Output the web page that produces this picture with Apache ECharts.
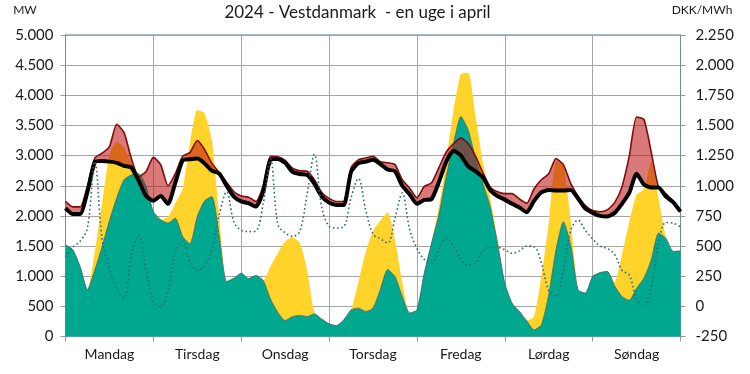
<!DOCTYPE html>
<html>
<head>
<meta charset="utf-8">
<script src="https://cdn.jsdelivr.net/npm/echarts@6/dist/echarts.min.js"></script>
<style>
html,body{margin:0;padding:0;background:#fff;}
#c{width:750px;height:374px;}
</style>
</head>
<body>
<div id="c"></div>
<script>
// Day names (x-axis labels), one per 24 h
const days = ['Mandag','Tirsdag','Onsdag','Torsdag','Fredag','Lørdag','Søndag'];
// Hour stamps (every 2nd hour through the week)
const hours = [];
for (let h = 0; h <= 168; h += 2) hours.push(h);

// Wind production, MW (green area)
const wind = [1520,1440,1160,775,1100,1490,1920,2300,2600,2680,2700,2490,
  2070,1935,1880,1960,1660,1540,1990,2250,2320,1660,910,965,
  1050,960,1010,930,620,400,265,330,350,330,375,290,
  210,180,275,440,470,415,470,780,1110,995,665,390,
  440,1050,1550,2015,2650,3200,3650,3425,2955,2540,2155,1550,
  885,553,415,260,110,195,690,1435,1905,1520,775,720,
  995,1060,1080,840,665,600,800,968,1270,1713,1630,1410,
  1420];
// Solar production, MW (yellow area, on top of wind)
const solar = [0,0,0,0,300,720,1090,930,530,190,0,0,
  0,0,100,250,790,1665,1765,1450,930,340,0,0,
  0,0,0,0,540,980,1310,1315,1200,770,25,0,
  0,0,0,0,430,985,1280,1140,950,605,235,0,
  0,0,0,135,250,550,700,950,700,350,150,60,
  0,0,0,0,220,805,1190,1465,945,415,0,0,
  0,0,0,60,685,1300,1550,1480,1630,590,20,0,
  0];
// Consumption, MW (thick black line)
const consumption = [2130,2030,2030,2400,2890,2910,2900,2880,2830,2800,2580,2330,
  2250,2330,2200,2550,2920,2940,2950,2870,2750,2700,2500,2320,
  2240,2210,2155,2400,2935,2945,2880,2730,2695,2680,2530,2320,
  2220,2180,2180,2730,2875,2900,2930,2860,2770,2740,2500,2360,
  2200,2265,2280,2560,2900,3080,3000,2820,2740,2640,2430,2330,
  2270,2200,2140,2060,2250,2390,2430,2420,2420,2430,2290,2120,
  2050,2000,1990,2050,2200,2380,2700,2520,2470,2470,2320,2230,
  2070];
// Upper edge of the red band, MW (dark red line)
const upper = [2240,2150,2150,2500,2960,3040,3150,3520,3380,2950,2650,2735,
  2970,2850,2500,2700,2990,3050,3250,3100,2870,2720,2560,2400,
  2330,2310,2240,2500,2990,2980,2920,2790,2750,2740,2600,2390,
  2290,2240,2240,2800,2930,2960,2990,2900,2880,2850,2600,2460,
  2300,2490,2550,2800,3060,3200,3290,3200,2990,2720,2480,2400,
  2370,2370,2280,2210,2450,2600,2700,2950,2850,2540,2330,2170,
  2090,2070,2100,2220,2480,2990,3640,3600,3060,2475,2370,2240,
  2100];
// Spot price, DKK/MWh (dotted line, right axis)
const price = [410,490,540,650,1200,560,310,140,70,420,590,300,
  40,0,130,450,540,370,300,340,480,760,950,700,
  630,620,625,850,1220,680,610,580,620,930,1260,820,
  665,650,660,900,1060,800,600,560,525,730,940,640,
  480,390,360,470,565,500,390,340,360,460,490,490,
  470,440,460,500,495,360,130,85,300,630,715,630,
  560,500,480,430,300,260,60,0,160,524,695,690,
  660];

const band = upper.map((v, i) => v - consumption[i]);

function fmt(v) {
  const s = String(Math.abs(v));
  const t = s.length > 3 ? s.slice(0, -3) + '.' + s.slice(-3) : s;
  return (v < 0 ? '-' : '') + t;
}

const FONT = 'Lato, "Open Sans", sans-serif';
const chart = echarts.init(document.getElementById('c'), null, {renderer: 'canvas'});
const sm = 0.2;

chart.setOption({
  animation: false,
  backgroundColor: '#ffffff',
  grid: {left: 65.5, right: 69.5, top: 35, bottom: 37.5, show: true, borderColor: '#4f7580', borderWidth: 1},
  graphic: [
    {type: 'text', x: 357.5, y: 13, style: {text: '2024 - Vestdanmark  - en uge i april', font: '17px ' + FONT, fill: '#1a1a1a', textAlign: 'center', textVerticalAlign: 'middle', align: 'center', verticalAlign: 'middle'}},
    {type: 'text', x: 25, y: 10, style: {text: 'MW', font: '12px ' + FONT, fill: '#1a1a1a', textAlign: 'center', textVerticalAlign: 'middle', align: 'center', verticalAlign: 'middle'}},
    {type: 'text', x: 702, y: 10, style: {text: 'DKK/MWh', font: '12px ' + FONT, fill: '#1a1a1a', textAlign: 'center', textVerticalAlign: 'middle', align: 'center', verticalAlign: 'middle'}}
  ],
  xAxis: {
    type: 'category',
    data: hours,
    boundaryGap: false,
    axisLine: {show: true, lineStyle: {color: '#9a9a9a', width: 1}},
    axisTick: {show: true, length: 5, interval: (i) => i % 12 === 0, lineStyle: {color: '#9a9a9a'}},
    splitLine: {show: true, interval: (i) => i % 12 === 0, lineStyle: {color: '#a6a6a6', width: 1}},
    axisLabel: {
      interval: (i) => i % 12 === 6,
      formatter: (v, i) => days[Math.floor(i / 12)],
      color: '#1a1a1a', fontFamily: FONT, fontSize: 14, margin: 11
    }
  },
  yAxis: [
    {
      type: 'value', min: 0, max: 5000, interval: 500, position: 'left',
      axisLine: {show: true, lineStyle: {color: '#6e8c94'}},
      axisTick: {show: true, length: 5, lineStyle: {color: '#9a9a9a'}},
      splitLine: {show: true, lineStyle: {color: '#a6a6a6', width: 1}},
      axisLabel: {formatter: fmt, color: '#1a1a1a', fontFamily: FONT, fontSize: 15, margin: 12}
    },
    {
      type: 'value', min: -250, max: 2250, interval: 250, position: 'right',
      axisLine: {show: true, lineStyle: {color: '#6e8c94'}},
      axisTick: {show: true, length: 5, lineStyle: {color: '#9a9a9a'}},
      splitLine: {show: false},
      axisLabel: {formatter: fmt, color: '#1a1a1a', fontFamily: FONT, fontSize: 15, margin: 15}
    }
  ],
  series: [
    {name: 'Vind', type: 'line', stack: 'prod', data: wind, symbol: 'none', smooth: sm,
     lineStyle: {color: '#2d5f60', width: 0.8}, areaStyle: {color: '#00a88f', opacity: 1}},
    {name: 'Sol', type: 'line', stack: 'prod', data: solar, symbol: 'none', smooth: sm,
     lineStyle: {width: 0}, areaStyle: {color: '#ffd32a', opacity: 1}},
    {name: 'base', type: 'line', stack: 'band', data: consumption, symbol: 'none', smooth: sm,
     lineStyle: {width: 0, opacity: 0}, silent: true},
    {name: 'Band', type: 'line', stack: 'band', data: band, symbol: 'none', smooth: sm,
     lineStyle: {color: '#7f0c0c', width: 1.6}, areaStyle: {color: 'rgba(190,20,20,0.57)', opacity: 1}},
    {name: 'Forbrug', type: 'line', data: consumption, symbol: 'none', smooth: sm,
     lineStyle: {color: '#000000', width: 4}},
    {name: 'Pris', type: 'line', yAxisIndex: 1, data: price, symbol: 'none', smooth: 0.35,
     lineStyle: {color: '#2c6a70', width: 1.6, type: [1.6, 2.6]}}
  ]
});
</script>
</body>
</html>
